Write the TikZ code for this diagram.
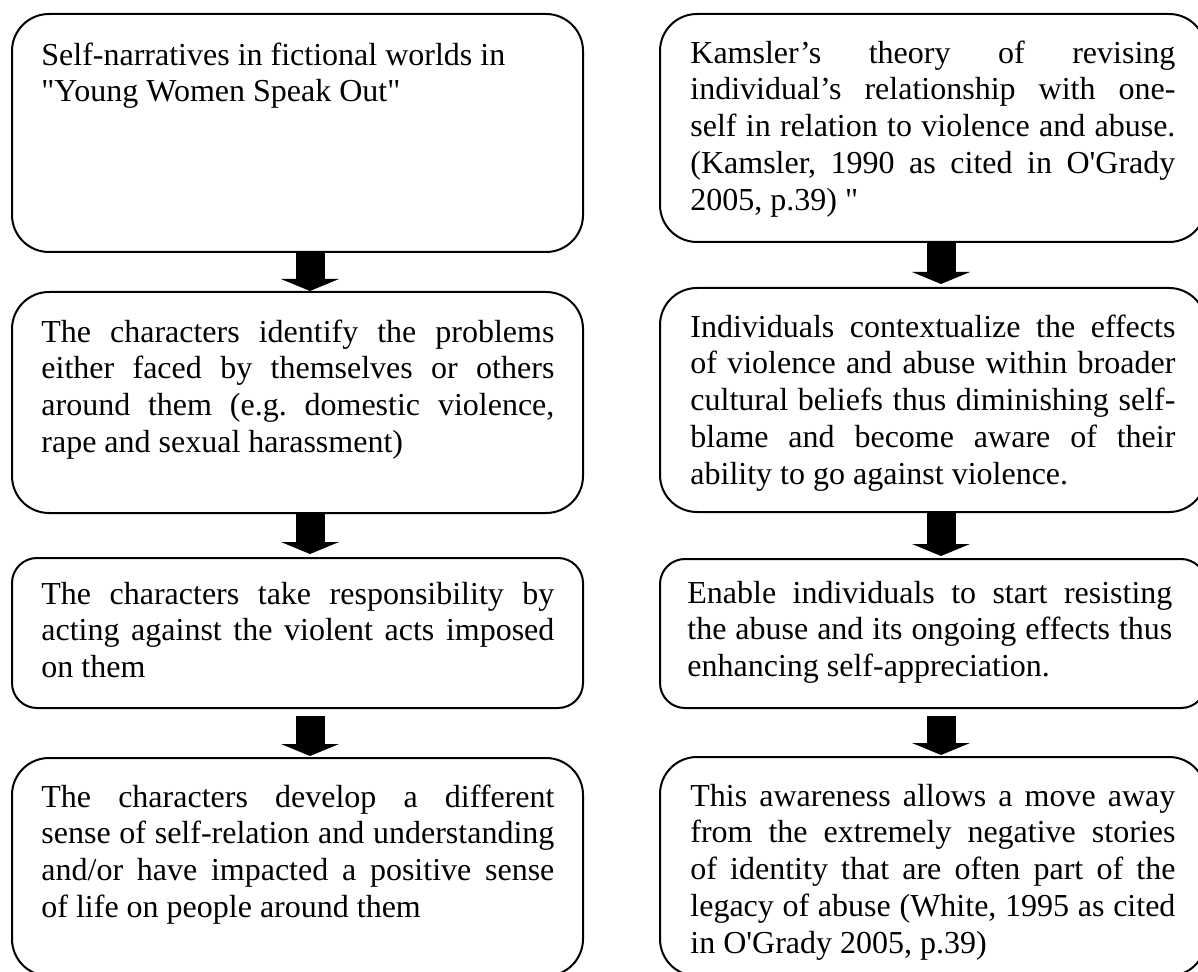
\documentclass[tikz,border=0pt]{standalone}
\usepackage{fontspec}
\newfontfamily\tnr{Liberation Serif}
\usetikzlibrary{arrows.meta,calc}
\newcommand\jL[1]{{\spaceskip=0pt\xspaceskip=0pt\makebox[256.5pt][s]{#1}}}
\newcommand\jR[1]{{\spaceskip=0pt\xspaceskip=0pt\makebox[242.5pt][s]{#1}}}
\begin{document}
\begin{tikzpicture}[x=0.5pt,y=-0.5pt,
  box/.style={draw, line width=1pt, rounded corners=18.5pt, inner sep=0pt, minimum width=285.5pt},
  rbox/.style={box, minimum width=273pt},
  small/.style={rounded corners=12.5pt},
  txt/.style={anchor=north west, inner sep=0pt, align=flush left,
    font=\tnr\fontsize{16pt}{18.4pt}\selectfont\frenchspacing},
  ltxt/.style={txt, text width=256.5pt},
  rtxt/.style={txt, text width=242.5pt},
  blockarrow/.style={line width=14.5pt, -{Triangle[width=29pt,length=6pt,line width=0pt]}},
]
\useasboundingbox (0,0) rectangle (1198,972);

% left column boxes
\node[box, minimum height=119pt] (L1) at (297.5,133) {};
\node[box, minimum height=110.5pt] (L2) at (297.5,402.5) {};
\node[box, small, minimum height=75pt] (L3) at (297.5,633) {};
\node[box, minimum height=109pt] (L4) at (297.5,867) {};

% right column boxes
\node[rbox, minimum height=114pt] (R1) at (933,128) {};
\node[rbox, minimum height=112pt] (R2) at (933,400) {};
\node[rbox, small, minimum height=74.5pt] (R3) at (933,633.5) {};
\node[rbox, minimum height=109.5pt] (R4) at (933,866.5) {};

% texts
\node[ltxt] (tL1) at ([shift={(30,26)}]L1.north west) {\strut Self-narratives in fictional worlds in\\ "Young Women Speak Out"};
\node[ltxt] (tL2) at ([shift={(30,25)}]L2.north west) {\strut\jL{The characters identify the problems}\\
  \jL{either faced by themselves or others}\\
  \jL{around them (e.g. domestic violence,}\\
  rape and sexual harassment)};
\node[ltxt] (tL3) at ([shift={(30,21)}]L3.north west) {\strut\jL{The characters take responsibility by}\\
  \jL{acting against the violent acts imposed}\\
  on them};
\node[ltxt] (tL4) at ([shift={(30,24)}]L4.north west) {\strut\jL{The characters develop a different}\\
  \jL{sense of self-relation and understanding}\\
  \jL{and/or have impacted a positive sense}\\
  of life on people around them};

\node[rtxt] (tR1) at ([shift={(31,24)}]R1.north west) {\strut\jR{Kamsler’s theory of revising}\\
  \jR{individual’s relationship with one-}\\
  \jR{self in relation to violence and abuse.}\\
  \jR{(Kamsler, 1990 as cited in O'Grady}\\
  2005, p.39) "};
\node[rtxt] (tR2) at ([shift={(31,24)}]R2.north west) {\strut\jR{Individuals contextualize the effects}\\
  \jR{of violence and abuse within broader}\\
  \jR{cultural beliefs thus diminishing self-}\\
  \jR{blame and become aware of their}\\
  ability to go against violence.};
\node[rtxt] (tR3) at ([shift={(28,19)}]R3.north west) {\strut\jR{Enable individuals to start resisting}\\
  \jR{the abuse and its ongoing effects thus}\\
  enhancing self-appreciation.};
\node[rtxt] (tR4) at ([shift={(31,24)}]R4.north west) {\strut\jR{This awareness allows a move away}\\
  \jR{from the extremely negative stories}\\
  \jR{of identity that are often part of the}\\
  \jR{legacy of abuse (White, 1995 as cited}\\
  in O'Grady 2005, p.39)};

% arrows
\coordinate (ax) at (310,0);
\coordinate (bx) at (941,0);
\draw[blockarrow] (ax |- L1.south) -- (ax |- L2.north);
\draw[blockarrow] (ax |- L2.south) -- ($(ax |- L3.north)+(0,-3)$);
\draw[blockarrow] ($(ax |- L3.south)+(0,7)$) -- ($(ax |- L4.north)+(0,-1)$);
\draw[blockarrow] (bx |- R1.south) -- ($(bx |- R2.north)+(0,-3)$);
\draw[blockarrow] (bx |- R2.south) -- ($(bx |- R3.north)+(0,-2)$);
\draw[blockarrow] ($(bx |- R3.south)+(0,7)$) -- ($(bx |- R4.north)+(0,-1)$);
\end{tikzpicture}
\end{document}
